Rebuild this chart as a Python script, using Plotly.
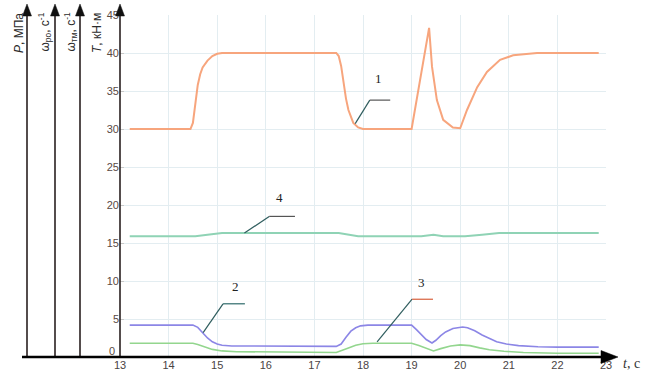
import plotly.graph_objects as go

# ---- data -------------------------------------------------------------
t1 = [13.2, 14.45, 14.5, 14.55, 14.6, 14.65, 14.7, 14.8, 14.9, 15.0, 15.1,
      17.45, 17.5, 17.55, 17.6, 17.65, 17.7, 17.75, 17.8, 17.9, 18.0,
      19.0, 19.36, 19.42, 19.52, 19.65, 19.85, 20.0, 20.14, 20.35, 20.55,
      20.82, 21.09, 21.58, 22.85]
T_torque = [30, 30, 30.8, 33.5, 35.8, 37.2, 38.1, 39.0, 39.6, 39.9, 40,
            40, 39.6, 38.3, 36.0, 34.0, 32.5, 31.5, 30.8, 30.2, 30,
            30, 43.3, 38.2, 33.8, 31.2, 30.2, 30.1, 32.5, 35.5, 37.5,
            39.1, 39.7, 40, 40]

t2 = [13.2, 14.5, 14.6, 14.7, 14.8, 14.9, 15.0, 15.1, 15.3, 17.45, 17.55,
      17.65, 17.75, 17.85, 17.95, 18.1, 19.0, 19.1, 19.2, 19.3, 19.42, 19.5,
      19.6, 19.7, 19.85, 20.05, 20.15, 20.3, 20.45, 20.6, 20.75, 20.95,
      21.2, 21.6, 22.0, 22.85]
P_pressure = [4.2, 4.2, 3.9, 3.2, 2.5, 2.0, 1.7, 1.55, 1.45, 1.4, 1.7,
              2.6, 3.4, 3.85, 4.1, 4.2, 4.2, 3.6, 2.9, 2.3, 1.85, 2.2,
              2.8, 3.3, 3.75, 3.95, 3.85, 3.45, 2.9, 2.4, 2.0, 1.7,
              1.5, 1.35, 1.3, 1.3]

t3 = [13.2, 14.5, 14.6, 14.75, 14.9, 15.1, 15.4, 17.45, 17.55, 17.7, 17.85,
      18.0, 18.2, 19.0, 19.15, 19.3, 19.45, 19.6, 19.8, 20.0, 20.2, 20.4,
      20.6, 20.9, 21.3, 22.0, 22.85]
w_ro = [1.8, 1.8, 1.65, 1.3, 1.0, 0.8, 0.7, 0.6, 0.8, 1.2, 1.55,
        1.75, 1.8, 1.8, 1.5, 1.1, 0.8, 1.1, 1.45, 1.6, 1.5, 1.2,
        0.95, 0.75, 0.6, 0.5, 0.5]

t4 = [13.2, 14.55, 14.8, 15.1, 17.5, 17.7, 17.9, 19.2, 19.45, 19.65,
      20.1, 20.45, 20.8, 22.85]
w_tm = [15.9, 15.9, 16.1, 16.3, 16.3, 16.1, 15.9, 15.9, 16.1, 15.9,
        15.9, 16.1, 16.3, 16.3]

x_ticks = list(range(13, 24))
y_ticks = [5, 10, 15, 20, 25, 30, 35, 40, 45]
y_origin_label = "0"

# curve number callouts: (curve point, elbow, end of shelf, label position)
callouts = [
    ("1", (17.84, 30.7), (18.14, 33.8), 18.56, (18.31, 35.4), "#555555"),
    ("2", (14.71, 3.2), (15.12, 7.0), 15.57, (15.37, 8.0), "#2e6a6a"),
    ("3", (18.29, 2.0), (19.01, 7.6), 19.44, (19.21, 8.6), "#d8603c"),
    ("4", (15.56, 16.3), (16.07, 18.5), 16.60, (16.28, 19.8), "#555555"),
]

W, H = 647, 373
L, R, TOP, B = 120, 41, 15, 16


def px(x):
    return (x - L) / (W - L - R)


def py(y):
    return (H - B - y) / (H - TOP - B)


fig = go.Figure()
fig.add_trace(go.Scatter(x=t4, y=w_tm, mode="lines",
                         line=dict(color="#8fd3b5", width=2)))
fig.add_trace(go.Scatter(x=t3, y=w_ro, mode="lines",
                         line=dict(color="#93d68e", width=1.6)))
fig.add_trace(go.Scatter(x=t2, y=P_pressure, mode="lines",
                         line=dict(color="#8c86e6", width=1.6)))
fig.add_trace(go.Scatter(x=t1, y=T_torque, mode="lines",
                         line=dict(color="#f7a57d", width=2)))

shapes = []
annotations = []

# callout leaders
for num, p0, p1, x2, lab, shelf_col in callouts:
    shapes.append(dict(type="line", xref="x", yref="y", x0=p0[0], y0=p0[1],
                       x1=p1[0], y1=p1[1], line=dict(color="#2f5d5e", width=1.2)))
    shapes.append(dict(type="line", xref="x", yref="y", x0=p1[0], y0=p1[1],
                       x1=x2, y1=p1[1], line=dict(color=shelf_col, width=1.2)))
    annotations.append(dict(x=lab[0], y=lab[1], xref="x", yref="y", text=num,
                            showarrow=False, yanchor="bottom",
                            font=dict(family="Liberation Serif", size=13, color="#222222")))

# vertical axes with arrowheads
axis_x = [27, 55, 80, 120]
for ax in axis_x:
    shapes.append(dict(type="line", xref="paper", yref="paper",
                       x0=px(ax), x1=px(ax), y0=py(357), y1=py(14),
                       line=dict(color="#2a2020", width=1.6)))
    shapes.append(dict(type="path", xref="paper", yref="paper",
                       path=f"M {px(ax - 4.5)} {py(16)} L {px(ax)} {py(4)} L {px(ax + 4.5)} {py(16)} Z",
                       fillcolor="#111111", line=dict(color="#111111", width=0.5)))

# horizontal time axis with arrowhead
shapes.append(dict(type="line", xref="paper", yref="paper",
                   x0=px(22), x1=px(604), y0=py(357), y1=py(357),
                   line=dict(color="#000000", width=2.6)))
shapes.append(dict(type="path", xref="paper", yref="paper",
                   path=f"M {px(601)} {py(350.5)} L {px(618)} {py(357)} L {px(601)} {py(363.5)} Z",
                   fillcolor="#000000", line=dict(color="#000000", width=0.5)))

axis_titles = [
    (19, "<i>P</i>, МПа"),
    (45, "ω<sub>ро</sub>, с<sup>-1</sup>"),
    (71, "ω<sub>тм</sub>, с<sup>-1</sup>"),
    (97, "<i>T</i>, кН·м"),
]
for x, txt in axis_titles:
    annotations.append(dict(x=px(x), y=py(11), xref="paper", yref="paper",
                            text=txt, textangle=-90, showarrow=False,
                            xanchor="center", yanchor="top",
                            font=dict(family="Liberation Sans", size=12, color="#2a2a2a")))
annotations.append(dict(x=px(621), y=py(363), xref="paper", yref="paper",
                        text="<i>t</i>, с", showarrow=False,
                        xanchor="left", yanchor="middle",
                        font=dict(family="Liberation Serif", size=14, color="#333333")))
# origin label of the vertical scale, lifted clear of the time labels
annotations.append(dict(x=px(117), y=py(351), xref="paper", yref="paper",
                        text=y_origin_label, showarrow=False,
                        xanchor="right", yanchor="middle",
                        font=dict(family="Liberation Sans", size=11, color="#5a4a44")))

fig.update_layout(
    width=W, height=H,
    margin=dict(l=L, r=R, t=TOP, b=B, autoexpand=False),
    paper_bgcolor="white", plot_bgcolor="white",
    showlegend=False,
    shapes=shapes, annotations=annotations,
    xaxis=dict(range=[13, 23], tickvals=x_ticks, ticktext=[str(v) for v in x_ticks],
               showgrid=True, gridcolor="#e3edf1", gridwidth=1,
               zeroline=False, showline=False, ticks="",
               tickfont=dict(family="Liberation Sans", size=11, color="#4a4444")),
    yaxis=dict(range=[0, 45], tickvals=y_ticks, ticktext=[str(v) for v in y_ticks],
               showgrid=True, gridcolor="#e3edf1", gridwidth=1,
               zeroline=False, showline=False, ticks="inside", ticklen=4,
               tickcolor="#c8c8c8",
               tickfont=dict(family="Liberation Sans", size=11, color="#5a4a44")),
)

fig.write_html("out.html")
